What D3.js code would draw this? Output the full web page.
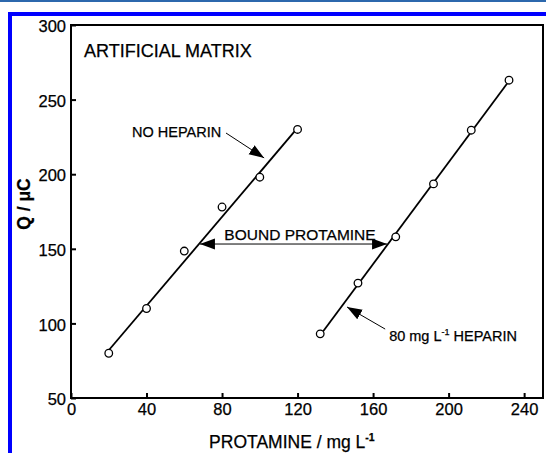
<!DOCTYPE html>
<html>
<head>
<meta charset="utf-8">
<script src="https://cdn.jsdelivr.net/npm/d3@7"></script>
<style>
  html, body { margin: 0; padding: 0; background: #fff; }
  svg { display: block; }
  text { font-family: "Liberation Sans", Arial, Helvetica, sans-serif; fill: #000; stroke: #000; stroke-width: 0.25px; }
</style>
</head>
<body>
<div id="chart"></div>
<script>
// measured points (protamine mg/L vs charge uC)
var noHepX = [20, 40, 60, 80, 100, 120];
var noHepQ = [80, 110, 148.5, 178, 198, 230];
var hepX = [132, 152, 172, 192, 212, 232];
var hepQ = [93, 127, 158, 193.5, 229.5, 263];

// end points of the fitted lines
var noHepFitX = [20, 120];
var noHepFitQ = [82, 231];
var hepFitX = [132, 232];
var hepFitQ = [92, 262.5];

// tick labels
var xTicks = [0, 40, 80, 120, 160, 200, 240];
var yTicks = [50, 100, 150, 200, 250, 300];

var totalWidth = 546, totalHeight = 453;
var margin = {top: 25, right: 3, bottom: 55, left: 71},
  innerWidth = totalWidth - margin.left - margin.right,
  innerHeight = totalHeight - margin.top - margin.bottom;

var svg = d3.select("#chart").append("svg")
    .attr("width", totalWidth)
    .attr("height", totalHeight);

// page frame (thin rule on top, blue bracket)
svg.append("rect").attr("x", 0).attr("y", 0).attr("width", totalWidth).attr("height", 2)
    .attr("fill", "#2c68ad");
svg.append("rect").attr("x", 8).attr("y", 12).attr("width", totalWidth - 8).attr("height", 4)
    .attr("fill", "#0000ff");
svg.append("rect").attr("x", 8).attr("y", 12).attr("width", 4).attr("height", totalHeight - 12)
    .attr("fill", "#0000ff");

var defs = svg.append("defs");
defs.append("marker")
    .attr("id", "head")
    .attr("markerUnits", "userSpaceOnUse")
    .attr("markerWidth", 16).attr("markerHeight", 12)
    .attr("refX", 15).attr("refY", 5.5)
    .attr("orient", "auto-start-reverse")
  .append("path")
    .attr("d", "M0,0 L15,5.5 L0,11 Z")
    .attr("fill", "#000");

var chart = svg.append("g")
    .attr("transform", "translate(" + margin.left + "," + margin.top + ")");

var xScale = d3.scaleLinear().domain([0, 250]).range([0, innerWidth]);
var yScale = d3.scaleLinear().domain([50, 300]).range([innerHeight, 0]);

// frame of the plot
chart.append("rect")
    .attr("width", innerWidth).attr("height", innerHeight)
    .attr("fill", "none").attr("stroke", "#000").attr("stroke-width", 2);

// axes with inward ticks
var xAxis = chart.append("g")
    .attr("transform", "translate(0," + innerHeight + ")")
    .call(d3.axisBottom(xScale).tickValues(xTicks).tickSizeInner(-5).tickSizeOuter(0).tickPadding(9));
var yAxis = chart.append("g")
    .call(d3.axisLeft(yScale).tickValues(yTicks).tickSizeInner(-5).tickSizeOuter(0).tickPadding(5));

[xAxis, yAxis].forEach(function(ax) {
  ax.select(".domain").remove();
  ax.selectAll(".tick line").attr("stroke", "#000").attr("stroke-width", 2);
  ax.selectAll(".tick text")
    .attr("font-family", "Liberation Sans, Arial, sans-serif")
    .attr("font-size", 16.5).attr("fill", "#000");
});
xAxis.selectAll(".tick text").attr("dy", "0.5em");
yAxis.selectAll(".tick text").attr("dy", "0.4em");

// axis titles
var xTitle = chart.append("text")
    .attr("x", xScale(117)).attr("y", innerHeight + 50)
    .attr("text-anchor", "middle")
    .attr("font-size", 17.5);
xTitle.append("tspan").text("PROTAMINE / mg L");
xTitle.append("tspan").attr("font-size", 10.5).attr("dy", -7).attr("font-weight", "bold").text("-1");

chart.append("text")
    .attr("transform", "translate(" + (-41) + "," + yScale(180) + ") rotate(-90)")
    .attr("text-anchor", "middle")
    .attr("font-size", 17.5).attr("font-weight", "bold")
    .text("Q / \u03bcC");

// fitted lines
var line = d3.line()
    .x(function(d) { return xScale(d[0]); })
    .y(function(d) { return yScale(d[1]); });

chart.append("path")
    .datum(d3.zip(noHepFitX, noHepFitQ))
    .attr("d", line).attr("fill", "none").attr("stroke", "#000").attr("stroke-width", 1.8);
chart.append("path")
    .datum(d3.zip(hepFitX, hepFitQ))
    .attr("d", line).attr("fill", "none").attr("stroke", "#000").attr("stroke-width", 1.8);

// data points
var points = d3.zip(noHepX, noHepQ).concat(d3.zip(hepX, hepQ));
chart.selectAll(".dot")
    .data(points)
  .enter().append("circle")
    .attr("class", "dot")
    .attr("cx", function(d) { return xScale(d[0]); })
    .attr("cy", function(d) { return yScale(d[1]); })
    .attr("r", 3.8)
    .attr("fill", "#fff").attr("stroke", "#000").attr("stroke-width", 1.3);

// annotations
chart.append("text")
    .attr("x", xScale(6.9)).attr("y", yScale(283.2)).attr("dy", "0.36em")
    .attr("font-size", 18)
    .text("ARTIFICIAL MATRIX");

chart.append("text")
    .attr("x", xScale(32.3)).attr("y", yScale(228.3)).attr("dy", "0.36em")
    .attr("font-size", 14.5)
    .text("NO HEPARIN");

function arrow(x1, y1, x2, y2, both) {
  var p = chart.append("line")
      .attr("x1", xScale(x1)).attr("y1", yScale(y1))
      .attr("x2", xScale(x2)).attr("y2", yScale(y2))
      .attr("stroke", "#000").attr("stroke-width", 1)
      .attr("marker-end", "url(#head)");
  if (both) p.attr("marker-start", "url(#head)");
}

arrow(82.1, 227.6, 102.3, 210.9, false);

chart.append("text")
    .attr("x", xScale(121.3)).attr("y", yScale(159.9)).attr("dy", "0.36em")
    .attr("text-anchor", "middle")
    .attr("font-size", 15.5)
    .text("BOUND PROTAMINE");
arrow(68.3, 153.2, 167.4, 153.2, true);

var hepLabel = chart.append("text")
    .attr("x", xScale(168.5)).attr("y", yScale(91.6)).attr("dy", "0.36em")
    .attr("font-size", 14.5);
hepLabel.append("tspan").text("80 mg L");
hepLabel.append("tspan").attr("font-size", 9).attr("dy", -6).text("-1");
hepLabel.append("tspan").attr("dy", 6).text(" HEPARIN");
arrow(166.4, 96.2, 146.2, 111, false);
</script>
</body>
</html>
